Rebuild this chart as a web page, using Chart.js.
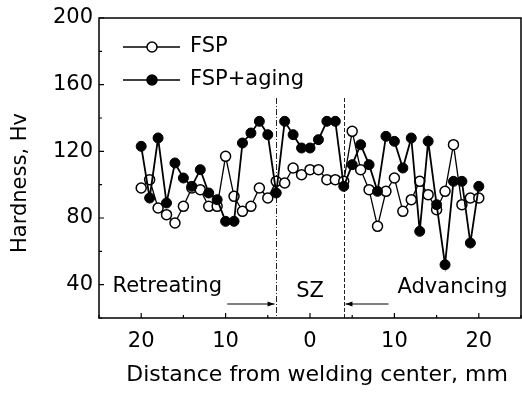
<!DOCTYPE html>
<html>
<head>
<meta charset="utf-8">
<script src="https://cdn.jsdelivr.net/npm/chart.js@4.4.0/dist/chart.umd.min.js"></script>
<style>
html,body{margin:0;padding:0;background:#fff;}
</style>
</head>
<body>
<canvas id="myGraph" width="522" height="393"></canvas>
<script>
// distancia al centro de la soldadura (mm), lado retreating negativo
const distance = [-20,-19,-18,-17,-16,-15,-14,-13,-12,-11,-10,-9,-8,-7,-6,-5,-4,-3,-2,-1,0,1,2,3,4,5,6,7,8,9,10,11,12,13,14,15,16,17,18,19,20];
const fspHardness = [98,103,86,82,77,87,98,97,87,87,117,93,84,87,98,92,102,101,110,106,109,109,103,103,102,132,109,97,75,96,104,84,91,102,94,85,96,124,88,92,92];
const agingHardness = [123,92,128,89,113,104,99,109,95,91,78,78,125,131,138,130,95,138,130,122,122,127,138,138,99,112,124,112,96,129,126,110,128,72,126,88,52,102,102,65,99];
const yTickLabels = [40,80,120,160,200];
const xTickLabels = [-20,-10,0,10,20];
const zoneBounds = [-4,4];

const FONT = 'DejaVu Sans';

function toPoints(vals) {
    return distance.map((d, i) => ({x: d, y: vals[i]}));
}

const extras = {
    id: 'extras',
    beforeDatasetsDraw(chart) {
        const {ctx, scales: {x, y}} = chart;
        ctx.save();
        ctx.strokeStyle = '#222';
        ctx.lineWidth = 1;
        // limites de la zona SZ
        zoneBounds.forEach((b, i) => {
            ctx.setLineDash(i === 0 ? [6, 2, 1, 2] : [4, 2]);
            ctx.beginPath();
            ctx.moveTo(Math.round(x.getPixelForValue(b)) + 0.5, y.getPixelForValue(152));
            ctx.lineTo(Math.round(x.getPixelForValue(b)) + 0.5, y.getPixelForValue(20));
            ctx.stroke();
        });
        ctx.restore();
    },
    afterDraw(chart) {
        const {ctx, chartArea: a, scales: {x, y}} = chart;
        ctx.save();
        ctx.strokeStyle = '#000';
        ctx.lineWidth = 1.5;
        ctx.strokeRect(a.left, a.top, a.right - a.left, a.bottom - a.top);

        // ticks hacia adentro
        ctx.lineWidth = 1.2;
        ctx.beginPath();
        for (let v = 20; v <= 200; v += 20) {
            const py = y.getPixelForValue(v);
            const len = v % 40 === 0 ? 5 : 3;
            ctx.moveTo(a.left, py);
            ctx.lineTo(a.left + len, py);
        }
        for (let v = -25; v <= 25; v += 5) {
            const px = x.getPixelForValue(v);
            const len = v % 10 === 0 ? 5 : 3;
            ctx.moveTo(px, a.bottom);
            ctx.lineTo(px, a.bottom - len);
        }
        ctx.stroke();

        // flechas
        const ay = y.getPixelForValue(28.4);
        const arrow = (x0, x1) => {
            const p0 = x.getPixelForValue(x0), p1 = x.getPixelForValue(x1);
            const dir = Math.sign(p1 - p0);
            ctx.lineWidth = 1;
            ctx.beginPath();
            ctx.moveTo(p0, ay);
            ctx.lineTo(p1, ay);
            ctx.stroke();
            ctx.beginPath();
            ctx.moveTo(p1, ay);
            ctx.lineTo(p1 - dir * 7, ay - 2.5);
            ctx.lineTo(p1 - dir * 7, ay + 2.5);
            ctx.closePath();
            ctx.fillStyle = '#000';
            ctx.fill();
        };
        arrow(-9.8, -4.2);
        arrow(9.3, 4.2);

        // textos de zonas
        ctx.fillStyle = '#000';
        ctx.font = '21px "' + FONT + '"';
        ctx.textBaseline = 'middle';
        ctx.textAlign = 'left';
        ctx.fillText('Retreating', x.getPixelForValue(-23.4), y.getPixelForValue(38.6));
        ctx.textAlign = 'center';
        ctx.fillText('SZ', x.getPixelForValue(0), y.getPixelForValue(35.6));
        ctx.textAlign = 'right';
        ctx.fillText('Advancing', x.getPixelForValue(23.4), y.getPixelForValue(38));

        // leyenda
        const legend = [
            {label: 'FSP', fill: '#fff', ly: 47},
            {label: 'FSP+aging', fill: '#000', ly: 80}
        ];
        legend.forEach(it => {
            ctx.lineWidth = 1.5;
            ctx.beginPath();
            ctx.moveTo(123, it.ly);
            ctx.lineTo(180, it.ly);
            ctx.stroke();
            ctx.beginPath();
            ctx.arc(152, it.ly, 5, 0, Math.PI * 2);
            ctx.fillStyle = it.fill;
            ctx.fill();
            ctx.stroke();
            ctx.fillStyle = '#000';
            ctx.textAlign = 'left';
            ctx.fillText(it.label, 190, it.ly);
        });

        // titulo eje y
        ctx.save();
        ctx.translate(21, 183);
        ctx.rotate(-Math.PI / 2);
        ctx.textAlign = 'center';
        ctx.fillText('Hardness, Hv', 0, 0);
        ctx.restore();

        // titulo eje x
        ctx.font = '22px "' + FONT + '"';
        ctx.textAlign = 'center';
        ctx.fillText('Distance from welding center, mm', 317, 375);
        ctx.restore();
    }
};

const ctx = document.getElementById('myGraph').getContext('2d');
const myGraph = new Chart(ctx, {
    type: 'line',
    data: {
        datasets: [{
            label: 'FSP+aging',
            data: toPoints(agingHardness),
            borderColor: '#000',
            borderWidth: 1.8,
            pointRadius: 5,
            pointBackgroundColor: '#000',
            pointBorderColor: '#000',
            pointBorderWidth: 1,
            lineTension: 0,
            fill: false
        }, {
            label: 'FSP',
            data: toPoints(fspHardness),
            borderColor: '#000',
            borderWidth: 1.3,
            pointRadius: 5,
            pointBackgroundColor: '#fff',
            pointBorderColor: '#000',
            pointBorderWidth: 1.5,
            lineTension: 0,
            fill: false
        }]
    },
    options: {
        responsive: false,
        animation: false,
        layout: {autoPadding: false, padding: {top: 18, right: 1, left: 0, bottom: 0}},
        plugins: {legend: {display: false}, tooltip: {enabled: false}},
        scales: {
            x: {
                type: 'linear',
                min: -25,
                max: 25,
                grid: {display: false, drawTicks: false},
                border: {display: false},
                afterFit: s => { s.height = 75; s.paddingLeft = 0; s.paddingRight = 0; },
                ticks: {
                    stepSize: 5,
                    padding: 11,
                    color: '#000',
                    font: {family: FONT, size: 21},
                    maxRotation: 0,
                    autoSkip: false,
                    callback: v => xTickLabels.includes(v) ? String(Math.abs(v)) : ''
                }
            },
            y: {
                min: 20,
                max: 200,
                grid: {display: false, drawTicks: false},
                border: {display: false},
                afterFit: s => { s.width = 99; s.paddingTop = 0; s.paddingBottom = 0; },
                ticks: {
                    stepSize: 20,
                    padding: 6,
                    color: '#000',
                    font: {family: FONT, size: 21},
                    autoSkip: false,
                    callback: v => yTickLabels.includes(v) ? String(v) : ''
                }
            }
        }
    },
    plugins: [extras]
});
</script>
</body>
</html>
